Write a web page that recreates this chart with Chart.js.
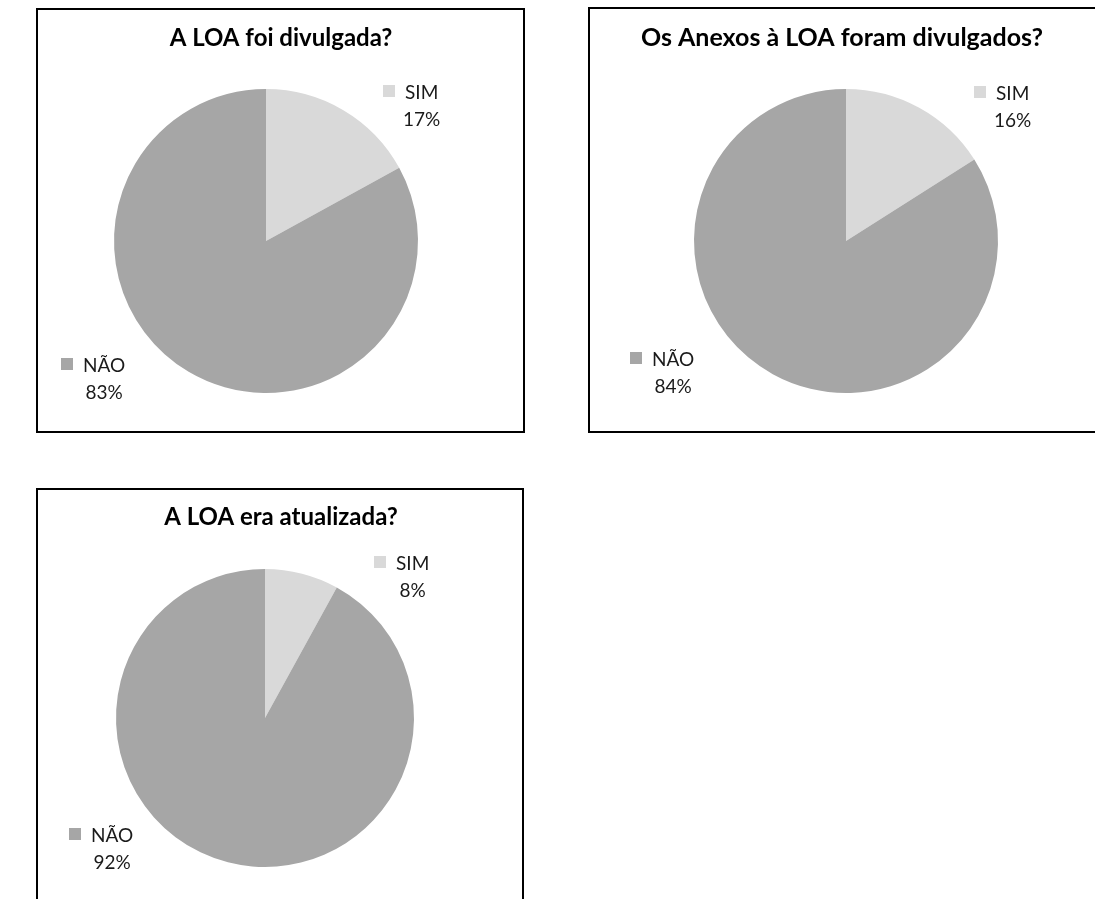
<!DOCTYPE html>
<html>
<head>
<meta charset="utf-8">
<script src="https://cdn.jsdelivr.net/npm/chart.js@4.4.0/dist/chart.umd.min.js"></script>
<style>
  html, body { margin: 0; padding: 0; background: #fff; }
  body { width: 1095px; height: 899px; position: relative; overflow: hidden; }
  .frame { position: absolute; border: 2px solid #000; box-sizing: border-box; background: #fff; }
  canvas.layer { position: absolute; left: 0; top: 0; pointer-events: none; }
</style>
</head>
<body>
<div class="frame" style="left:36px;top:8px;width:489px;height:425px"></div>
<div class="frame" style="left:588px;top:7px;width:530px;height:426px"></div>
<div class="frame" style="left:36px;top:488px;width:488px;height:430px"></div>
<canvas class="layer" id="c1" width="1095" height="899"></canvas>
<canvas class="layer" id="c2" width="1095" height="899"></canvas>
<canvas class="layer" id="c3" width="1095" height="899"></canvas>
<script>
// Answer categories shared by every question
const categories = ['SIM', 'NÃO'];

// Question titles
const titles = [
  'A LOA foi divulgada?',
  'Os Anexos à LOA foram divulgados?',
  'A LOA era atualizada?'
];

// Share of answers (%) per question, in category order
const loaDivulgada = [17, 83];
const anexosDivulgados = [16, 84];
const loaAtualizada = [8, 92];

const sliceColors = ['#d9d9d9', '#a6a6a6'];
const FONT = 'Lato, "Liberation Sans", sans-serif';

// Placement of each pie and its labels on the page
const panels = [
  { id: 'c1', values: loaDivulgada, title: titles[0], titleSize: 24,
    cx: 266, cy: 241, r: 152, titleX: 281, titleY: 38,
    labels: [ { x: 405, y: 99 }, { x: 83, y: 372 } ] },
  { id: 'c2', values: anexosDivulgados, title: titles[1], titleSize: 25,
    cx: 846, cy: 241, r: 152, titleX: 842, titleY: 38,
    labels: [ { x: 996, y: 100 }, { x: 652, y: 366 } ] },
  { id: 'c3', values: loaAtualizada, title: titles[2], titleSize: 24,
    cx: 265, cy: 718, r: 149, titleX: 281, titleY: 517,
    labels: [ { x: 396, y: 570 }, { x: 91, y: 842 } ] }
];

// Draws the title and the "■ name / percent" labels
const labelPlugin = {
  id: 'pieLabels',
  afterDatasetsDraw(chart, args, opts) {
    const ctx = chart.ctx;
    const p = opts.panel;
    const data = chart.data.datasets[0].data;
    const total = data.reduce((a, b) => a + b, 0);
    ctx.save();
    ctx.fillStyle = '#000';
    ctx.font = 'bold ' + p.titleSize + 'px ' + FONT;
    ctx.textAlign = 'center';
    ctx.textBaseline = 'middle';
    ctx.fillText(p.title, p.titleX, p.titleY);

    ctx.font = '19px ' + FONT;
    ctx.textBaseline = 'alphabetic';
    chart.data.labels.forEach((name, i) => {
      const pos = p.labels[i];
      const w = ctx.measureText(name).width;
      ctx.fillStyle = sliceColors[i];
      ctx.fillRect(pos.x - 22, pos.y - 14, 12, 12);
      ctx.fillStyle = '#1a1a1a';
      ctx.textAlign = 'left';
      ctx.fillText(name, pos.x, pos.y);
      ctx.textAlign = 'center';
      const pct = Math.round(data[i] / total * 100) + '%';
      ctx.fillText(pct, pos.x + w / 2, pos.y + 27);
    });
    ctx.restore();
  }
};

const W = 1095, H = 899;
panels.forEach(p => {
  new Chart(document.getElementById(p.id), {
    type: 'pie',
    data: {
      labels: categories,
      datasets: [{
        data: p.values,
        backgroundColor: sliceColors,
        borderWidth: 0
      }]
    },
    options: {
      responsive: false,
      animation: false,
      events: [],
      layout: {
        padding: {
          left: p.cx - p.r,
          right: W - (p.cx + p.r),
          top: p.cy - p.r,
          bottom: H - (p.cy + p.r)
        }
      },
      plugins: {
        legend: { display: false },
        tooltip: { enabled: false },
        title: { display: false },
        pieLabels: { panel: p }
      }
    },
    plugins: [labelPlugin]
  });
});
</script>
</body>
</html>
